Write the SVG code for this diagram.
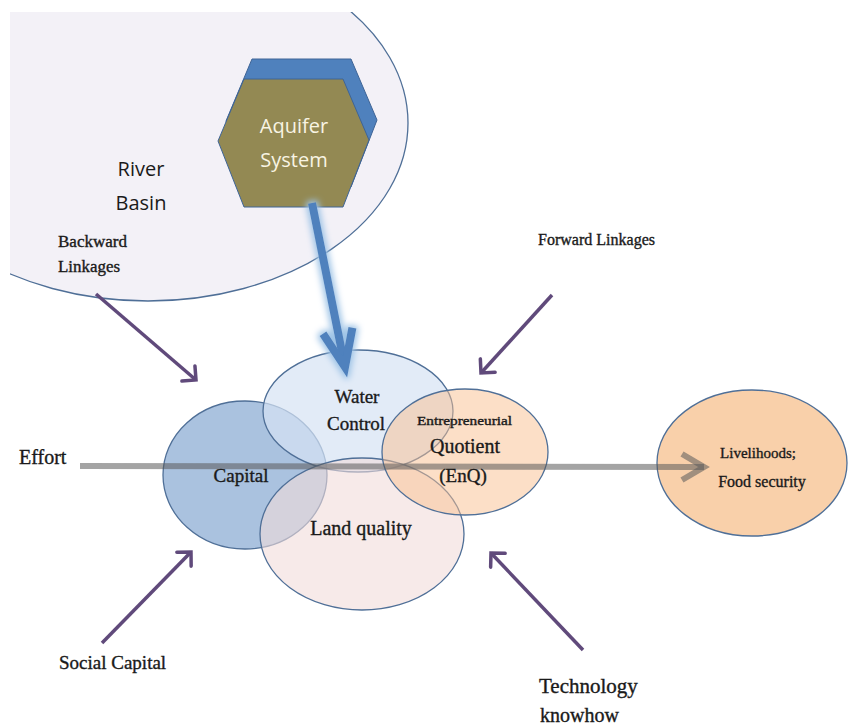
<svg xmlns="http://www.w3.org/2000/svg" width="849" height="726" viewBox="0 0 849 726">
<style>
.serif{font-family:"Liberation Serif","Times New Roman",serif;fill:#1a1a1a;stroke:#1a1a1a;stroke-width:0.35}
.sans{font-family:"Open Sans","Noto Sans",sans-serif}
.ell{stroke:#4F6F97;stroke-width:1.3}
.purple{stroke:#604A7B;stroke-width:3.5;fill:none;marker-end:url(#pHead)}
</style>
<defs>
<clipPath id="clipTL"><rect x="10" y="12" width="839" height="400"/></clipPath>
<marker id="pHead" markerUnits="userSpaceOnUse" markerWidth="30" markerHeight="30" viewBox="-15 -15 30 30" refX="0" refY="0" orient="auto" overflow="visible">
<path d="M-10,-10 L0,0 L-10,10" fill="none" stroke="#604A7B" stroke-width="3.5" stroke-linecap="round"/>
</marker>
<marker id="gHead" markerUnits="userSpaceOnUse" markerWidth="50" markerHeight="50" viewBox="-25 -25 50 50" refX="0" refY="0" orient="auto" overflow="visible">
<path d="M-22,-13 L0,0 L-22,13" fill="none" stroke="#595959" stroke-opacity="0.55" stroke-width="6"/>
</marker>
<marker id="bHead" markerUnits="userSpaceOnUse" markerWidth="90" markerHeight="90" viewBox="-45 -45 90 90" refX="0" refY="0" orient="auto" overflow="visible">
<path d="M-37,-15 L0,0 L-37,15" fill="none" stroke="#4F81BD" stroke-width="8" stroke-linejoin="miter"/>
</marker>
<filter id="glow" x="-60%" y="-20%" width="220%" height="140%">
<feMorphology in="SourceAlpha" operator="dilate" radius="2" result="d"/>
<feGaussianBlur in="d" stdDeviation="3" result="b"/>
<feFlood flood-color="#9DC3E6" result="c"/>
<feComposite in="c" in2="b" operator="in" result="g"/>
<feMerge><feMergeNode in="g"/><feMergeNode in="SourceGraphic"/></feMerge>
</filter>
</defs>
<rect width="849" height="726" fill="#ffffff"/>

<g id="river-basin">
<ellipse cx="148" cy="123" rx="260" ry="178" fill="#F3F1F7" class="ell" clip-path="url(#clipTL)"/>
<text class="sans" x="141" y="176" font-size="20" text-anchor="middle" fill="#1a1a1a">River</text>
<text class="sans" x="141" y="210" font-size="20" text-anchor="middle" fill="#1a1a1a">Basin</text>
</g>

<g id="aquifer-system">
<polygon points="252,59 351,59 377,120 351,187 252,187 226,121" fill="#4F81BD" stroke="#3E6496" stroke-width="1"/>
<polygon points="244,79 343,79 369,140 343,207 244,207 218,141" fill="#938953" stroke="#3E6496" stroke-width="1"/>
<text class="sans" x="294" y="133" font-size="20" text-anchor="middle" fill="#F8F4E3">Aquifer</text>
<text class="sans" x="294" y="167" font-size="20" text-anchor="middle" fill="#F8F4E3">System</text>
</g>

<g id="capital">
<ellipse cx="245" cy="475" rx="82" ry="74" fill="#95B3D7" fill-opacity="0.8" class="ell"/>
</g>
<g id="water-control">
<ellipse cx="358" cy="411" rx="95" ry="61" fill="#D6E3F3" fill-opacity="0.7" class="ell"/>
</g>
<g id="land-quality">
<ellipse cx="362" cy="534" rx="102" ry="76" fill="#F2DCDB" fill-opacity="0.6" class="ell"/>
</g>
<g id="enq">
<ellipse cx="465" cy="452" rx="83" ry="63" fill="#FAC090" fill-opacity="0.5" class="ell"/>
</g>
<g id="livelihoods">
<ellipse cx="752" cy="463" rx="95" ry="73" fill="#F9D0AA" class="ell"/>
</g>

<g id="connectors">
<g filter="url(#glow)">
<path d="M312,203 L345,367" fill="none" stroke="#4F81BD" stroke-width="8" marker-end="url(#bHead)"/>
</g>
<path d="M80,466 L704,467" fill="none" stroke="#595959" stroke-opacity="0.55" stroke-width="6" marker-end="url(#gHead)"/>
<path class="purple" d="M96,294 L196,380"/>
<path class="purple" d="M552,295 L481,373"/>
<path class="purple" d="M102,643 L191,552"/>
<path class="purple" d="M583,650 L491,553"/>
</g>

<g id="labels">
<text class="serif" x="357" y="403" font-size="19" text-anchor="middle">Water</text>
<text class="serif" x="356" y="430" font-size="19" text-anchor="middle">Control</text>
<text class="serif" x="241" y="482" font-size="19" text-anchor="middle">Capital</text>
<text class="serif" x="361" y="535" font-size="20" text-anchor="middle">Land quality</text>
<text class="serif" x="417" y="425" font-size="12" textLength="95" lengthAdjust="spacingAndGlyphs">Entrepreneurial</text>
<text class="serif" x="465" y="453" font-size="20" text-anchor="middle">Quotient</text>
<text class="serif" x="463" y="482" font-size="19" text-anchor="middle">(EnQ)</text>
<text class="serif" x="758" y="458" font-size="15" text-anchor="middle">Livelihoods;</text>
<text class="serif" x="762" y="487" font-size="16" text-anchor="middle">Food security</text>
<text class="serif" x="58" y="247" font-size="16" textLength="69" lengthAdjust="spacingAndGlyphs">Backward</text>
<text class="serif" x="58" y="272" font-size="16" textLength="62" lengthAdjust="spacingAndGlyphs">Linkages</text>
<text class="serif" x="538" y="245" font-size="16" textLength="117" lengthAdjust="spacingAndGlyphs">Forward Linkages</text>
<text class="serif" x="19" y="464" font-size="20">Effort</text>
<text class="serif" x="59" y="669" font-size="19">Social Capital</text>
<text class="serif" x="539" y="693" font-size="21">Technology</text>
<text class="serif" x="540" y="722" font-size="20">knowhow</text>
</g>
</svg>
